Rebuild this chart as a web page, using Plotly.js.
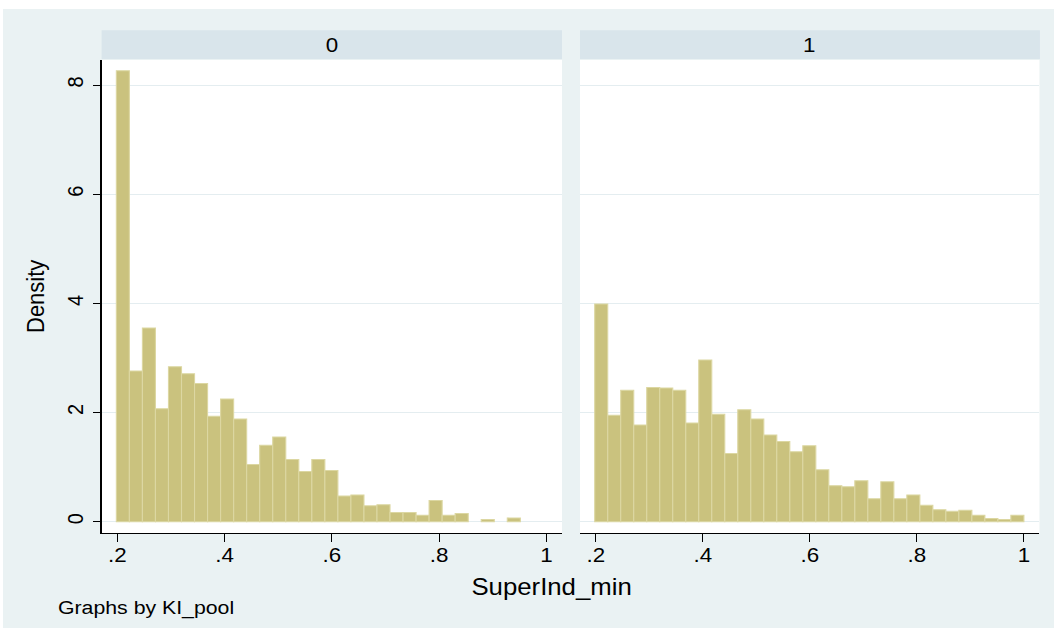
<!DOCTYPE html>
<html>
<head>
<meta charset="utf-8">
<script src="https://cdn.plot.ly/plotly-3.0.1.min.js"></script>
<style>
  html, body { margin:0; padding:0; background:#ffffff; width:1054px; height:628px; overflow:hidden; }
  #wrap { position:absolute; left:3px; top:9px; width:1051px; height:619px; overflow:hidden; background:#eaf2f3; }
  #chart { width:938px; height:619px; transform:scaleX(1.1205); transform-origin:0 0; }
</style>
</head>
<body>
<div id="wrap"><div id="chart"></div></div>
<script>
// Histogram bins (Stata default: common bins for both panels)
const binStart = 0.198;
const binWidth = 0.0243;

// Panel labels (KI_pool)
const panelLabels = ["0", "1"];

// Densities, KI_pool = 0
const density0 = [8.26, 2.76, 3.55, 2.07, 2.84, 2.71, 2.53, 1.93, 2.25, 1.88,
                  1.05, 1.40, 1.55, 1.14, 0.92, 1.14, 0.94, 0.47, 0.49, 0.29,
                  0.31, 0.17, 0.17, 0.12, 0.39, 0.12, 0.15, 0, 0.04, 0,
                  0.07, 0, 0];
// Densities, KI_pool = 1
const density1 = [3.99, 1.95, 2.41, 1.77, 2.46, 2.45, 2.41, 1.81, 2.96, 1.97,
                  1.25, 2.05, 1.88, 1.59, 1.47, 1.28, 1.39, 0.95, 0.66, 0.64,
                  0.75, 0.42, 0.73, 0.42, 0.49, 0.30, 0.22, 0.19, 0.21, 0.12,
                  0.06, 0.04, 0.12];

// Axis ticks
const xTickVals = [0.2, 0.4, 0.6, 0.8, 1];
const xTickText = [".2", ".4", ".6", ".8", "1"];
const yTickVals = [0, 2, 4, 6, 8];
const yTickText = ["0", "2", "4", "6", "8"];

const xTitle = "SuperInd_min";
const yTitle = "Density";
const noteText = "Graphs by KI_pool";

const centers = density0.map((_, i) => binStart + binWidth * (i + 0.5));

const FONT = "Liberation Sans, Arial, Helvetica, sans-serif";
const barFill = "#cac27e";
const barLine = "#dcd7a2";

function barTrace(y, xa, ya) {
  return {
    type: "bar", x: centers, y: y, width: binWidth,
    xaxis: xa, yaxis: ya,
    marker: { color: barFill,
              line: { color: barLine, width: y.map(v => (v > 0 ? 1 : 0)) } },
    hoverinfo: "skip", showlegend: false
  };
}

const data = [barTrace(density0, "x", "y"), barTrace(density1, "x2", "y2")];

const xRange = [0.1705, 1.029];
const yRange = [-0.207, 8.458];

const xCommon = {
  range: xRange, tickvals: xTickVals, ticktext: xTickText,
  showline: true, linecolor: "#000000", linewidth: 1,
  ticks: "outside", ticklen: 8, tickwidth: 1, tickcolor: "#000000",
  showgrid: false, zeroline: false, automargin: false, ticklabelstandoff: -4,
  tickfont: { family: FONT, size: 20, color: "#000000" }
};

const layout = {
  width: 938, height: 619,
  margin: { l: 88, r: 13, t: 51, b: 95 },
  paper_bgcolor: "#eaf2f3", plot_bgcolor: "#ffffff",
  bargap: 0, showlegend: false,
  font: { family: FONT, color: "#000000" },
  xaxis: Object.assign({}, xCommon, { domain: [0, 0.4909], anchor: "y" }),
  xaxis2: Object.assign({}, xCommon, { domain: [0.5101, 1], anchor: "y2" }),
  yaxis: {
    domain: [0, 1], anchor: "x", range: yRange,
    tickvals: yTickVals, ticktext: yTickText, tickangle: -90,
    showline: true, linecolor: "#000000", linewidth: 1,
    ticks: "outside", ticklen: 7, tickwidth: 1, tickcolor: "#000000",
    showgrid: true, gridcolor: "#e4edf0", gridwidth: 1,
    zeroline: false, automargin: false, ticklabelstandoff: 1,
    tickfont: { family: FONT, size: 20, color: "#000000" }
  },
  yaxis2: {
    domain: [0, 1], anchor: "x2", range: yRange, matches: "y",
    tickvals: yTickVals, showticklabels: false, ticks: "",
    showline: false, showgrid: true, gridcolor: "#e4edf0", gridwidth: 1,
    zeroline: false, automargin: false
  },
  shapes: [
    { type: "rect", xref: "paper", yref: "paper", x0: 0, x1: 0.4909, y0: 1.002, y1: 1.063,
      fillcolor: "#d9e5eb", line: { width: 0 }, layer: "below" },
    { type: "rect", xref: "paper", yref: "paper", x0: 0.5101, x1: 1.0005, y0: 1.002, y1: 1.063,
      fillcolor: "#d9e5eb", line: { width: 0 }, layer: "below" }
  ],
  annotations: [
    { text: panelLabels[0], xref: "paper", yref: "paper", x: 0.2455, y: 1.0317,
      xanchor: "center", yanchor: "middle", showarrow: false,
      font: { family: FONT, size: 20, color: "#000000" } },
    { text: panelLabels[1], xref: "paper", yref: "paper", x: 0.755, y: 1.0317,
      xanchor: "center", yanchor: "middle", showarrow: false,
      font: { family: FONT, size: 20, color: "#000000" } },
    { text: xTitle, xref: "paper", yref: "paper", x: 0.4792, y: -0.1142,
      xanchor: "center", yanchor: "middle", showarrow: false,
      font: { family: FONT, size: 23, color: "#000000" } },
    { text: yTitle, xref: "paper", yref: "paper", x: -0.0699, y: 0.5,
      xanchor: "center", yanchor: "middle", showarrow: false, textangle: -90,
      font: { family: FONT, size: 22, color: "#000000" } },
    { text: noteText, xref: "paper", yref: "paper", x: -0.0495, y: -0.1586,
      xanchor: "left", yanchor: "middle", showarrow: false,
      font: { family: FONT, size: 19, color: "#000000" } }
  ]
};

Plotly.newPlot("chart", data, layout, { staticPlot: true, displayModeBar: false });
</script>
</body>
</html>
